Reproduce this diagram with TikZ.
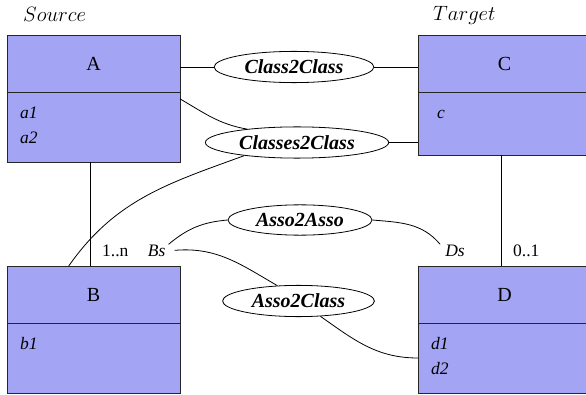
\documentclass[tikz,border=0pt]{standalone}
\usepackage{fontspec}
\setmainfont{Liberation Serif}
\usetikzlibrary{positioning,shapes.geometric}
\definecolor{classblue}{RGB}{164,164,245}

\begin{document}
\begin{tikzpicture}[x=1pt,y=1pt,
  classhead/.style={draw=black!85,fill=classblue,line width=0.8pt,minimum width=173pt,minimum height=57pt,inner sep=0pt,outer sep=0pt,font=\fontsize{20}{24}\selectfont},
  classbody/.style={draw=black!85,fill=classblue,line width=0.8pt,minimum width=173pt,inner sep=0pt,outer sep=0pt},
  attr/.style={anchor=base west,inner sep=0pt,font=\fontsize{17.5}{20}\selectfont\itshape},
  mult/.style={anchor=base west,inner sep=0pt,font=\fontsize{17.5}{20}\selectfont},
  side/.style={anchor=base west,inner sep=0pt,font=\fontsize{22}{26}\selectfont},
  rule/.style={draw,ellipse,fill=white,line width=0.8pt,inner xsep=7pt,inner ysep=4pt,font=\fontsize{20}{24}\selectfont\bfseries\itshape},
  link/.style={line width=0.8pt}]
\useasboundingbox (0,0) rectangle (586,394);
\clip (0,0) rectangle (586,394);
%the classes
\node [classhead,anchor=north west] (Atitle) at (7,359) {A};
\node [classbody,minimum height=70pt,below=0pt of Atitle] (Abody) {};
\node [classhead,right=238pt of Atitle] (Ctitle) {C};
\node [classbody,minimum height=63pt,below=0pt of Ctitle] (Cbody) {};
\node [classhead,below=104pt of Abody] (Btitle) {B};
\node [classbody,minimum height=70pt,below=0pt of Btitle] (Bbody) {};
\node [classhead,below=111pt of Cbody] (Dtitle) {D};
\node [classbody,minimum height=70pt,below=0pt of Dtitle] (Dbody) {};
\node [side] (srcLabel) at ([shift={(16pt,13pt)}]Atitle.north west) {$Source$};
\node [side] (tgtLabel) at ([shift={(15pt,14pt)}]Ctitle.north west) {$Target$};
%attributes
\node [attr] (attrA1) at ([shift={(13pt,-27pt)}]Abody.north west) {a1};
\node [attr] (attrA2) at ([yshift=-25pt]attrA1.base west) {a2};
\node [attr] (attrC) at ([shift={(19pt,-27pt)}]Cbody.north west) {c};
\node [attr] (attrB1) at ([shift={(13pt,-26pt)}]Bbody.north west) {b1};
\node [attr] (attrD1) at ([shift={(13pt,-26pt)}]Dbody.north west) {d1};
\node [attr] (attrD2) at ([yshift=-25pt]attrD1.base west) {d2};
%the rules
\node [rule] (ruleC2C) at (294,327) {Class2Class};
\node [rule] (ruleCs2C) at (297,251.5) {Classes2Class};
\node [rule] (ruleA2A) at (300,174) {Asso2Asso};
\node [rule] (ruleA2C) at (298.5,93) {Asso2Class};
%association ends
\node [mult] (multB) at ([shift={(8.5pt,10pt)}]Btitle.north) {1..n};
\node [attr] (roleB) at ([xshift=19pt]multB.base east) {Bs};
\node [mult] (multD) at ([shift={(8.5pt,10pt)}]Dtitle.north) {0..1};
\node [attr,anchor=base east] (roleD) at ([xshift=-48pt]multD.base west) {Ds};
%drawings of lines
\draw[link] (ruleC2C.west) -- (ruleC2C.west -| Atitle.east);
\draw[link] (ruleC2C.east) -- (ruleC2C.east -| Ctitle.west);

\draw[link] (Abody.18) to[out=-30,in=170] (ruleCs2C.165);
\draw[link] (ruleCs2C.east) -- (ruleCs2C.east -| Cbody.west);
\draw[link] (ruleCs2C.194) to[out=200,in=55] (Btitle.131);

\draw[link] ([xshift=-3.5pt]Abody.south) -- ([xshift=-3.5pt]Btitle.north);
\draw[link] ([xshift=-3.5pt]Cbody.south) -- ([xshift=-3.5pt]Dtitle.north);

\draw[link] ([xshift=3pt]roleB.north east) to[out=40,in=185] (ruleA2A.west);
\draw[link] ([xshift=9pt]roleB.east) to[out=5,in=150] (ruleA2C.144);
\draw[link] (ruleA2A.east) to[out=-5,in=130] ([xshift=-5pt]roleD.north west);
\draw[link] (ruleA2C.-35) to[out=-35,in=180] (Dbody.west);
\end{tikzpicture}
\end{document}
